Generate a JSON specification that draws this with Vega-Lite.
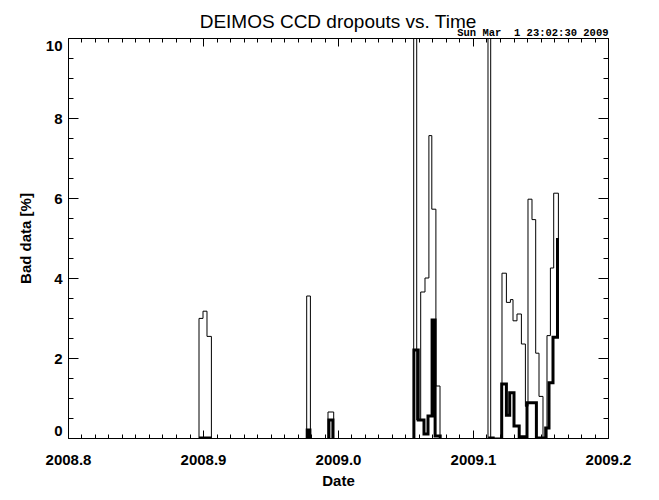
{
  "$schema": "https://vega.github.io/schema/vega-lite/v6.json",
  "width": 540,
  "height": 400,
  "autosize": "none",
  "padding": {"left": 68, "top": 38, "right": 51, "bottom": 62},
  "background": "white",
  "title": {
    "text": "DEIMOS CCD dropouts vs. Time",
    "font": "Liberation Sans",
    "fontSize": 19,
    "fontWeight": "normal",
    "color": "black",
    "anchor": "middle",
    "baseline": "alphabetic",
    "offset": -19
  },
  "data": {
    "values": [
      {"set": "A", "seg": "a1", "i": 1, "date": 2008.89704, "pct": 0},
      {"set": "A", "seg": "a1", "i": 2, "date": 2008.89704, "pct": 2.99},
      {"set": "A", "seg": "a1", "i": 3, "date": 2008.90000, "pct": 3.17},
      {"set": "A", "seg": "a1", "i": 4, "date": 2008.90296, "pct": 2.54},
      {"set": "A", "seg": "a1", "i": 5, "date": 2008.90622, "pct": 0},
      {"set": "A", "seg": "a2", "i": 1, "date": 2008.97681, "pct": 0},
      {"set": "A", "seg": "a2", "i": 2, "date": 2008.97681, "pct": 3.55},
      {"set": "A", "seg": "a2", "i": 3, "date": 2008.97956, "pct": 0},
      {"set": "A", "seg": "a3", "i": 1, "date": 2008.99259, "pct": 0},
      {"set": "A", "seg": "a3", "i": 2, "date": 2008.99259, "pct": 0.65},
      {"set": "A", "seg": "a3", "i": 3, "date": 2008.99681, "pct": 0},
      {"set": "A", "seg": "a4", "i": 1, "date": 2009.05607, "pct": 0},
      {"set": "A", "seg": "a4", "i": 2, "date": 2009.05607, "pct": 12},
      {"set": "A", "seg": "a4", "i": 3, "date": 2009.05830, "pct": 0.45},
      {"set": "A", "seg": "a4", "i": 4, "date": 2009.06126, "pct": 3.65},
      {"set": "A", "seg": "a4", "i": 5, "date": 2009.06444, "pct": 4.0},
      {"set": "A", "seg": "a4", "i": 6, "date": 2009.06733, "pct": 7.56},
      {"set": "A", "seg": "a4", "i": 7, "date": 2009.06948, "pct": 5.72},
      {"set": "A", "seg": "a4", "i": 8, "date": 2009.07252, "pct": 1.3},
      {"set": "A", "seg": "a4", "i": 9, "date": 2009.07556, "pct": 0},
      {"set": "A", "seg": "a5", "i": 1, "date": 2009.11111, "pct": 0},
      {"set": "A", "seg": "a5", "i": 2, "date": 2009.11111, "pct": 12},
      {"set": "A", "seg": "a5", "i": 3, "date": 2009.11311, "pct": 0},
      {"set": "A", "seg": "a5", "i": 4, "date": 2009.12148, "pct": 4.12},
      {"set": "A", "seg": "a5", "i": 5, "date": 2009.12474, "pct": 3.39},
      {"set": "A", "seg": "a5", "i": 6, "date": 2009.12770, "pct": 3.46},
      {"set": "A", "seg": "a5", "i": 7, "date": 2009.12963, "pct": 2.93},
      {"set": "A", "seg": "a5", "i": 8, "date": 2009.13259, "pct": 3.1},
      {"set": "A", "seg": "a5", "i": 9, "date": 2009.13585, "pct": 2.35},
      {"set": "A", "seg": "a5", "i": 10, "date": 2009.13881, "pct": 0.79},
      {"set": "A", "seg": "a5", "i": 11, "date": 2009.14074, "pct": 5.97},
      {"set": "A", "seg": "a5", "i": 12, "date": 2009.14370, "pct": 5.46},
      {"set": "A", "seg": "a5", "i": 13, "date": 2009.14644, "pct": 2.12},
      {"set": "A", "seg": "a5", "i": 14, "date": 2009.14889, "pct": 1.04},
      {"set": "A", "seg": "a5", "i": 15, "date": 2009.15185, "pct": 0},
      {"set": "A", "seg": "a5", "i": 16, "date": 2009.15481, "pct": 2.56},
      {"set": "A", "seg": "a5", "i": 17, "date": 2009.15733, "pct": 4.25},
      {"set": "A", "seg": "a5", "i": 18, "date": 2009.15978, "pct": 6.12},
      {"set": "A", "seg": "a5", "i": 19, "date": 2009.16326, "pct": 5.0},
      {"set": "B", "seg": "b1", "i": 1, "date": 2008.89704, "pct": 0},
      {"set": "B", "seg": "b1", "i": 2, "date": 2008.90622, "pct": 0},
      {"set": "B", "seg": "b2", "i": 1, "date": 2008.97719, "pct": 0},
      {"set": "B", "seg": "b2", "i": 2, "date": 2008.97719, "pct": 0.2},
      {"set": "B", "seg": "b2", "i": 3, "date": 2008.97919, "pct": 0},
      {"set": "B", "seg": "b3", "i": 1, "date": 2008.99326, "pct": 0},
      {"set": "B", "seg": "b3", "i": 2, "date": 2008.99326, "pct": 0.45},
      {"set": "B", "seg": "b3", "i": 3, "date": 2008.99622, "pct": 0},
      {"set": "B", "seg": "b4", "i": 1, "date": 2009.05622, "pct": 0},
      {"set": "B", "seg": "b4", "i": 2, "date": 2009.05622, "pct": 2.2},
      {"set": "B", "seg": "b4", "i": 3, "date": 2009.05941, "pct": 0.45},
      {"set": "B", "seg": "b4", "i": 4, "date": 2009.06370, "pct": 0.1},
      {"set": "B", "seg": "b4", "i": 5, "date": 2009.06667, "pct": 0.55},
      {"set": "B", "seg": "b4", "i": 6, "date": 2009.06970, "pct": 2.95},
      {"set": "B", "seg": "b4", "i": 7, "date": 2009.07193, "pct": 0.05},
      {"set": "B", "seg": "b4", "i": 8, "date": 2009.07570, "pct": 0},
      {"set": "B", "seg": "b5", "i": 1, "date": 2009.11126, "pct": 0},
      {"set": "B", "seg": "b5", "i": 2, "date": 2009.11607, "pct": 0},
      {"set": "B", "seg": "b6", "i": 1, "date": 2009.12126, "pct": 0},
      {"set": "B", "seg": "b6", "i": 2, "date": 2009.12126, "pct": 1.35},
      {"set": "B", "seg": "b6", "i": 3, "date": 2009.12474, "pct": 0.57},
      {"set": "B", "seg": "b6", "i": 4, "date": 2009.12719, "pct": 1.13},
      {"set": "B", "seg": "b6", "i": 5, "date": 2009.13037, "pct": 0.3},
      {"set": "B", "seg": "b6", "i": 6, "date": 2009.13422, "pct": 0.03},
      {"set": "B", "seg": "b6", "i": 7, "date": 2009.14000, "pct": 0.88},
      {"set": "B", "seg": "b6", "i": 8, "date": 2009.14696, "pct": 0},
      {"set": "B", "seg": "b6", "i": 9, "date": 2009.15385, "pct": 0.25},
      {"set": "B", "seg": "b6", "i": 10, "date": 2009.15630, "pct": 1.38},
      {"set": "B", "seg": "b6", "i": 11, "date": 2009.15926, "pct": 2.52},
      {"set": "B", "seg": "b6", "i": 12, "date": 2009.16259, "pct": 5.0}
    ]
  },
  "layer": [
    {
      "transform": [{"filter": "datum.set == 'A'"}],
      "mark": {"type": "line", "interpolate": "step-after", "color": "black", "strokeWidth": 1, "clip": true},
      "encoding": {
        "x": {
          "field": "date",
          "type": "quantitative",
          "scale": {"domain": [2008.8, 2009.2], "nice": false, "zero": false},
          "axis": {
            "orient": "bottom",
            "title": "Date",
            "titleFontSize": 15,
            "titleFontWeight": "bold",
            "titlePadding": 2,
            "labelFontSize": 15,
            "labelFontWeight": "bold",
            "labelPadding": 22,
            "labelOverlap": false,
            "labelFlush": false,
            "values": [2008.8, 2008.81, 2008.82, 2008.83, 2008.84, 2008.85, 2008.86, 2008.87, 2008.88, 2008.89, 2008.9, 2008.91, 2008.92, 2008.93, 2008.94, 2008.95, 2008.96, 2008.97, 2008.98, 2008.99, 2009.0, 2009.01, 2009.02, 2009.03, 2009.04, 2009.05, 2009.06, 2009.07, 2009.08, 2009.09, 2009.1, 2009.11, 2009.12, 2009.13, 2009.14, 2009.15, 2009.16, 2009.17, 2009.18, 2009.19, 2009.2],
            "labelExpr": "round(datum.value * 100) % 10 == 0 ? format(datum.value, '.1f') : ''",
            "tickSize": {"condition": {"test": "round(datum.value * 100) % 10 == 0", "value": -8}, "value": -4}
          }
        },
        "y": {
          "field": "pct",
          "type": "quantitative",
          "scale": {"domain": [0, 10], "nice": false},
          "axis": {
            "orient": "left",
            "title": "Bad data [%]",
            "titleFontSize": 15,
            "titleFontWeight": "bold",
            "titlePadding": 12,
            "labelFontSize": 15,
            "labelFontWeight": "bold",
            "labelPadding": 16,
            "labelOverlap": false,
            "labelFlush": true,
            "values": [0, 0.5, 1, 1.5, 2, 2.5, 3, 3.5, 4, 4.5, 5, 5.5, 6, 6.5, 7, 7.5, 8, 8.5, 9, 9.5, 10],
            "labelExpr": "datum.value % 2 == 0 ? format(datum.value, 'd') : ''",
            "tickSize": {"condition": {"test": "datum.value % 2 == 0", "value": -10}, "value": -5}
          }
        },
        "detail": {"field": "seg"},
        "order": {"field": "i"}
      }
    },
    {
      "transform": [{"filter": "datum.set == 'B'"}],
      "mark": {"type": "line", "interpolate": "step-after", "color": "black", "strokeWidth": 3, "clip": true},
      "encoding": {
        "x": {
          "field": "date",
          "type": "quantitative",
          "scale": {"domain": [2008.8, 2009.2], "nice": false, "zero": false},
          "axis": {
            "orient": "top",
            "labels": false,
            "title": "Sun Mar \u00a01 23:02:30 2009",
            "titleFont": "Liberation Mono",
            "titleFontSize": 10.5,
            "titleFontWeight": "bold",
            "titleAnchor": "end",
            "titleAlign": "right",
            "titlePadding": 0,
            "values": [2008.8, 2008.81, 2008.82, 2008.83, 2008.84, 2008.85, 2008.86, 2008.87, 2008.88, 2008.89, 2008.9, 2008.91, 2008.92, 2008.93, 2008.94, 2008.95, 2008.96, 2008.97, 2008.98, 2008.99, 2009.0, 2009.01, 2009.02, 2009.03, 2009.04, 2009.05, 2009.06, 2009.07, 2009.08, 2009.09, 2009.1, 2009.11, 2009.12, 2009.13, 2009.14, 2009.15, 2009.16, 2009.17, 2009.18, 2009.19, 2009.2],
            "tickSize": {"condition": {"test": "round(datum.value * 100) % 10 == 0", "value": -8}, "value": -4}
          }
        },
        "y": {
          "field": "pct",
          "type": "quantitative",
          "scale": {"domain": [0, 10], "nice": false},
          "axis": {
            "orient": "right",
            "labels": false,
            "title": null,
            "values": [0, 0.5, 1, 1.5, 2, 2.5, 3, 3.5, 4, 4.5, 5, 5.5, 6, 6.5, 7, 7.5, 8, 8.5, 9, 9.5, 10],
            "tickSize": {"condition": {"test": "datum.value % 2 == 0", "value": -10}, "value": -5}
          }
        },
        "detail": {"field": "seg"},
        "order": {"field": "i"}
      }
    }
  ],
  "resolve": {"axis": {"x": "independent", "y": "independent"}},
  "config": {
    "view": {"stroke": null},
    "axis": {
      "grid": false,
      "domainColor": "black",
      "domainWidth": 1,
      "tickColor": "black",
      "tickWidth": 1,
      "labelColor": "black",
      "titleColor": "black",
      "labelFont": "Liberation Sans",
      "titleFont": "Liberation Sans"
    }
  }
}
